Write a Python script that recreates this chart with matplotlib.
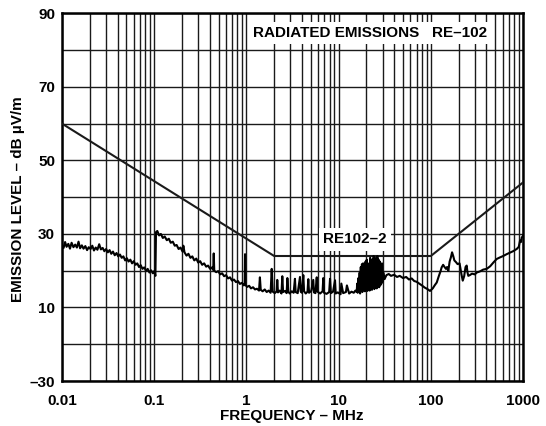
import numpy as np
import matplotlib.pyplot as plt
from matplotlib.ticker import FixedLocator, NullFormatter

plt.rcParams['font.family'] = ['Liberation Sans', 'DejaVu Sans']
plt.rcParams['font.weight'] = 'bold'

# limit line RE102-2 (MHz, dB uV/m)
limit_freq = [0.01, 2.0, 100.0, 1000.0]
limit_level = [60.0, 24.0, 24.0, 44.0]

freq_mhz = [
    0.0100, 0.0104, 0.0108, 0.0112, 0.0117, 0.0122, 0.0127, 0.0133, 0.0139, 0.0145,
    0.0151, 0.0157, 0.0164, 0.0171, 0.0179, 0.0187, 0.0195, 0.0204, 0.0213, 0.0222,
    0.0232, 0.0242, 0.0253, 0.0264, 0.0276, 0.0288, 0.0301, 0.0314, 0.0328, 0.0342,
    0.0357, 0.0373, 0.0390, 0.0407, 0.0425, 0.0444, 0.0463, 0.0484, 0.0505, 0.0527,
    0.0551, 0.0575, 0.0600, 0.0627, 0.0655, 0.0684, 0.0714, 0.0746, 0.0779, 0.0813,
    0.0849, 0.0887, 0.0926, 0.0967, 0.1000, 0.1030, 0.1045, 0.108, 0.113, 0.118,
    0.124, 0.130, 0.137, 0.144, 0.151, 0.159, 0.167, 0.175, 0.184, 0.193,
    0.203, 0.207, 0.213, 0.224, 0.235, 0.247, 0.259, 0.272, 0.286, 0.300,
    0.315, 0.331, 0.348, 0.366, 0.384, 0.404, 0.424, 0.436, 0.442, 0.448,
    0.470, 0.494, 0.519, 0.545, 0.573, 0.602, 0.632, 0.664, 0.698, 0.733,
    0.770, 0.809, 0.850, 0.893, 0.938, 0.958, 0.966, 0.975, 1.02, 1.07,
    1.12, 1.18, 1.24, 1.30, 1.37, 1.40, 1.43, 1.50, 1.58, 1.66,
    1.74, 1.83, 1.88, 1.93, 2.03, 2.13, 2.16, 2.20, 2.30, 2.40,
    2.45, 2.50, 2.62, 2.73, 2.78, 2.85, 2.95, 3.10, 3.25, 3.36,
    3.42, 3.60, 3.81, 3.88, 4.00, 4.14, 4.22, 4.40, 4.60, 4.69,
    4.78, 5.05, 5.31, 5.40, 5.60, 5.79, 5.90, 6.30, 6.70, 6.82,
    6.95, 7.40, 7.90, 8.07, 8.25, 8.70, 9.14, 9.30, 9.80, 10.5,
    10.7, 11.2, 12.0, 12.3, 13.0, 13.8, 14.6, 15.2, 15.7, 15.9,
    16.1, 16.4, 16.6, 16.9, 17.1, 17.4, 17.6, 17.9, 18.1, 18.4,
    18.7, 19.0, 19.3, 19.6, 19.9, 20.2, 20.5, 20.8, 21.1, 21.4,
    21.7, 22.0, 22.3, 22.7, 23.0, 23.3, 23.7, 24.0, 24.4, 24.7,
    25.1, 25.5, 25.9, 26.3, 26.7, 27.1, 27.5, 27.9, 28.3, 28.7,
    29.1, 29.5, 30.0, 30.5, 31.5, 33.0, 35.0, 37.0, 40.0, 43.0,
    46.0, 50.0, 54.0, 58.0, 62.0, 66.0, 70.0, 75.0, 80.0, 86.0,
    92.0, 98.0, 105, 110, 116, 122, 128, 131, 136, 141,
    146, 150, 155, 160, 165, 170, 175, 180, 188, 195,
    205, 215, 222, 230, 238, 245, 250, 255, 265, 280,
    300, 315, 340, 370, 404, 440, 480, 519, 560, 610,
    665, 720, 780, 854, 900, 928, 950, 968, 1000,
]
level_db = [
    27.0, 26.2, 27.8, 26.5, 27.3, 26.0, 27.6, 26.4, 27.1, 26.3,
    27.9, 26.1, 26.9, 26.0, 26.7, 25.6, 26.4, 25.9, 26.8, 25.5,
    26.3, 25.7, 27.2, 25.8, 26.2, 25.3, 25.9, 25.0, 25.6, 24.6,
    25.2, 24.2, 24.8, 23.9, 24.4, 23.5, 23.9, 22.8, 23.4, 22.5,
    23.0, 22.0, 22.6, 21.6, 22.0, 21.0, 21.5, 20.5, 20.9, 20.0,
    20.5, 19.5, 20.1, 19.3, 19.9, 18.6, 30.5, 30.8, 29.6, 30.0,
    28.9, 29.3, 28.3, 28.7, 27.6, 27.9, 26.8, 27.0, 25.9, 26.3,
    25.2, 26.8, 25.0, 24.1, 24.6, 23.5, 23.9, 22.8, 23.3, 22.2,
    22.6, 21.6, 22.0, 21.1, 21.4, 20.5, 20.9, 20.2, 24.7, 20.0,
    19.6, 19.9, 19.0, 19.3, 18.5, 18.8, 17.9, 18.2, 17.3, 17.6,
    16.9, 17.2, 16.4, 16.7, 16.0, 16.3, 24.5, 16.1, 15.6, 15.9,
    15.2, 15.5, 14.9, 15.1, 14.6, 18.2, 14.8, 14.4, 14.9, 14.2,
    14.6, 14.0, 20.5, 14.3, 13.9, 14.4, 17.5, 14.1, 14.6, 13.8,
    18.5, 14.2, 14.5, 13.9, 18.0, 14.3, 13.8, 14.4, 14.0, 17.8,
    14.2, 13.9, 18.3, 14.3, 14.0, 18.8, 14.4, 13.8, 14.3, 17.7,
    14.0, 14.5, 17.5, 14.1, 13.9, 18.2, 14.3, 13.8, 14.4, 18.0,
    14.0, 13.7, 14.2, 17.8, 13.9, 14.3, 17.4, 13.8, 14.1, 13.6,
    16.5, 13.9, 14.2, 16.0, 13.8, 14.3, 14.0, 14.6, 14.2, 16.5,
    14.0, 18.0, 14.3, 19.5, 13.8, 21.0, 14.5, 21.8, 14.2, 22.0,
    14.8, 21.0, 14.4, 22.5, 15.0, 23.0, 14.5, 22.0, 15.2, 21.5,
    14.6, 23.5, 15.0, 22.5, 14.8, 23.0, 15.4, 24.0, 15.0, 22.0,
    15.5, 23.5, 15.2, 24.0, 15.8, 23.0, 15.5, 22.5, 16.0, 21.0,
    16.5, 22.0, 17.0, 19.5, 17.7, 18.8, 19.1, 18.6, 18.9, 18.3,
    18.6, 18.0, 18.3, 17.6, 17.9, 17.2, 17.0, 16.5, 16.0, 15.4,
    15.0, 14.5, 15.2, 16.0, 16.8, 18.5, 20.0, 20.9, 21.6, 21.0,
    20.5, 21.0, 20.0, 22.5, 23.6, 25.0, 24.0, 22.8, 22.3, 21.8,
    22.0, 19.0, 17.3, 18.5, 21.0, 21.4, 19.5, 18.6, 18.8, 19.2,
    19.0, 19.5, 19.8, 20.3, 20.5, 21.2, 22.3, 23.2, 23.6, 24.0,
    24.5, 24.9, 25.3, 25.9, 26.5, 28.2, 27.8, 29.0, 29.5,
]

y_ticks = [-10, 10, 30, 50, 70, 90]
y_tick_labels = ['\u201330', '10', '30', '50', '70', '90']
x_ticks = [0.01, 0.1, 1, 10, 100, 1000]
x_tick_labels = ['0.01', '0.1', '1', '10', '100', '1000']

fig = plt.figure(figsize=(5.46, 4.26), dpi=100)
ax = fig.add_axes([0.1136, 0.1056, 0.8443, 0.8631])

ax.set_xscale('log')
ax.set_xlim(0.01, 1000)
ax.set_ylim(-10, 90)

# grid: every 10 dB, every 1..9 per decade
ax.yaxis.set_major_locator(FixedLocator(y_ticks))
ax.yaxis.set_minor_locator(FixedLocator(np.arange(-10, 91, 10)))
ax.set_yticklabels(y_tick_labels)
ax.xaxis.set_major_locator(FixedLocator(x_ticks))
ax.set_xticklabels(x_tick_labels)
minor_x = [m * 10.0 ** d for d in range(-2, 3) for m in range(2, 10)]
ax.xaxis.set_minor_locator(FixedLocator(minor_x))
ax.xaxis.set_minor_formatter(NullFormatter())
ax.grid(True, which='both', color='#1a1a1a', lw=1.0)
ax.set_axisbelow(True)
ax.tick_params(which='both', length=0)
ax.tick_params(axis='x', pad=9, labelsize=11)
ax.tick_params(axis='y', pad=5, labelsize=11)
for s in ax.spines.values():
    s.set_linewidth(1.8)

ax.plot(limit_freq, limit_level, color='#1a1a1a', lw=1.5, zorder=3)
ax.plot(freq_mhz, level_db, color='black', lw=1.5, zorder=3)

ax.text(1.18, 84.6, 'RADIATED EMISSIONS   RE\u2013102', fontsize=11, fontweight='bold',
        va='center', ha='left', zorder=4,
        bbox=dict(facecolor='white', edgecolor='none', pad=3))
ax.text(15.0, 28.5, 'RE102\u20132', fontsize=11, fontweight='bold',
        va='center', ha='center', zorder=4,
        bbox=dict(facecolor='white', edgecolor='none', pad=3))

fig.text(0.535, 1 - 416 / 426, 'FREQUENCY \u2013 MHz', fontsize=11, fontweight='bold',
         ha='center', va='center')
fig.text(18 / 546, 0.533, 'EMISSION LEVEL \u2013 dB \u00b5V/m', fontsize=11, fontweight='bold',
         ha='center', va='center', rotation=90)

fig.savefig('out.png', dpi=100)
